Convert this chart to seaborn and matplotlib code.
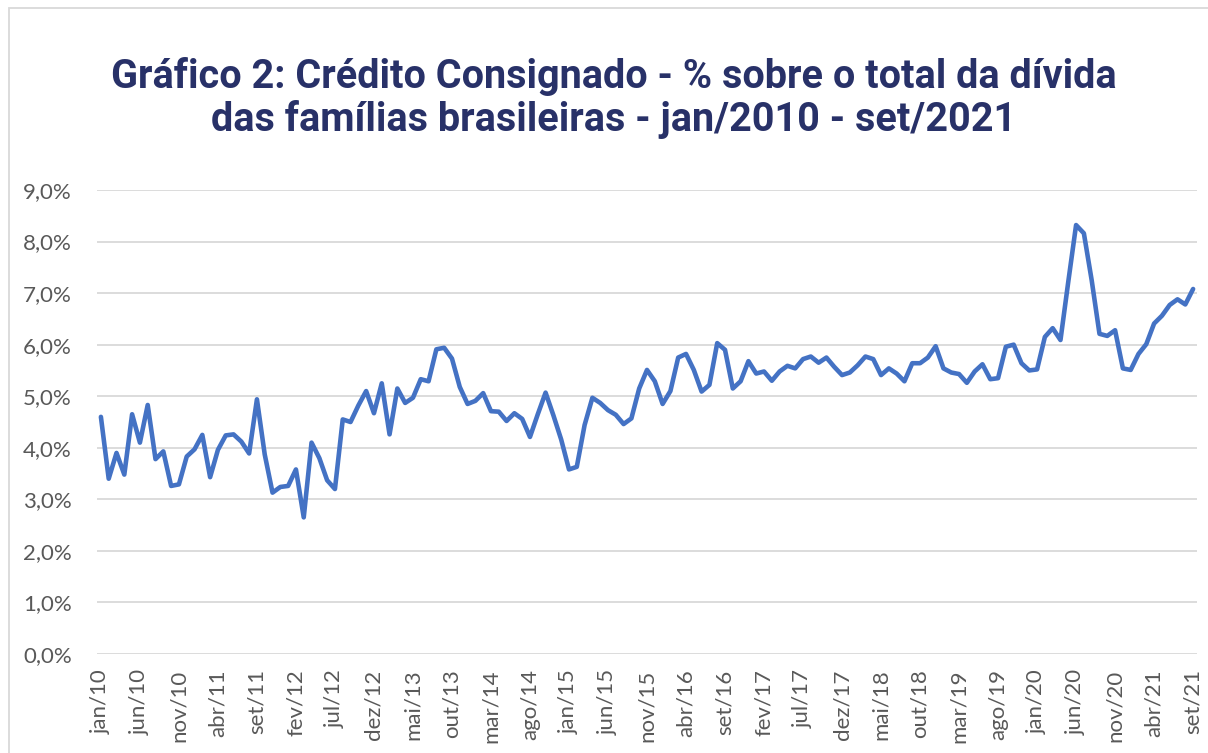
import numpy as np
import pandas as pd
import matplotlib
matplotlib.use("Agg")
import matplotlib.pyplot as plt
import seaborn as sns
from matplotlib.patches import Rectangle
from matplotlib.ticker import FuncFormatter

# share of payroll-deducted credit in total household debt (%), jan/2010 .. set/2021
valores = [
    4.60, 3.40, 3.90, 3.48, 4.65, 4.10, 4.83, 3.78, 3.93, 3.26, 3.29, 3.83,  # 2010
    3.97, 4.25, 3.43, 3.96, 4.24, 4.26, 4.12, 3.89, 4.94, 3.87, 3.13, 3.24,  # 2011
    3.26, 3.58, 2.65, 4.10, 3.80, 3.37, 3.20, 4.55, 4.50, 4.82, 5.10, 4.67,  # 2012
    5.25, 4.26, 5.15, 4.87, 4.97, 5.33, 5.29, 5.91, 5.94, 5.73, 5.18, 4.85,  # 2013
    4.91, 5.06, 4.71, 4.70, 4.52, 4.67, 4.56, 4.21, 4.65, 5.07, 4.63, 4.16,  # 2014
    3.58, 3.63, 4.44, 4.97, 4.87, 4.73, 4.64, 4.46, 4.57, 5.15, 5.51, 5.29,  # 2015
    4.85, 5.10, 5.75, 5.82, 5.51, 5.09, 5.22, 6.03, 5.90, 5.15, 5.29, 5.68,  # 2016
    5.44, 5.48, 5.30, 5.48, 5.59, 5.54, 5.72, 5.77, 5.65, 5.75, 5.57, 5.41,  # 2017
    5.46, 5.60, 5.77, 5.72, 5.41, 5.54, 5.44, 5.29, 5.64, 5.64, 5.75, 5.97,  # 2018
    5.54, 5.46, 5.43, 5.26, 5.48, 5.62, 5.33, 5.35, 5.96, 6.00, 5.64, 5.50,  # 2019
    5.52, 6.15, 6.32, 6.09, 7.22, 8.32, 8.16, 7.25, 6.21, 6.17, 6.28, 5.54,  # 2020
    5.51, 5.82, 6.01, 6.41, 6.56, 6.77, 6.88, 6.78, 7.08,                    # 2021
]
meses = ["jan", "fev", "mar", "abr", "mai", "jun", "jul", "ago", "set", "out", "nov", "dez"]
rotulos = [f"{meses[i % 12]}/{10 + i // 12}" for i in range(len(valores))]
titulo = "Gráfico 2: Crédito Consignado - % sobre o total da dívida\ndas famílias brasileiras - jan/2010 - set/2021"

df = pd.DataFrame({"pos": np.arange(len(valores)), "valor": valores, "mes": rotulos})

sns.set_style("white")
plt.rcParams["font.family"] = ["Lato", "DejaVu Sans"]

fig = plt.figure(figsize=(12.08, 7.53), dpi=100)
ax = fig.add_axes([97 / 1208, 1 - 654 / 753, 1100 / 1208, 464 / 753])

sns.lineplot(data=df, x="pos", y="valor", ax=ax, color="#4472C4", linewidth=3.3)

ax.set_xlim(-0.5, len(valores) - 0.5)
ax.set_ylim(0, 9)
ax.set_yticks(np.arange(0, 10, 1))
ax.yaxis.set_major_formatter(FuncFormatter(lambda v, _: f"{v:.1f}%".replace(".", ",")))
ax.set_xticks(df["pos"][::5])
ax.set_xticklabels(df["mes"][::5], rotation=90)
ax.tick_params(axis="both", length=0, labelsize=16, labelcolor="#595959")
ax.tick_params(axis="y", pad=18)
ax.tick_params(axis="x", pad=11)
ax.grid(axis="y", color="#D9D9D9", linewidth=1.3)
ax.set_axisbelow(True)
for s in ax.spines.values():
    s.set_visible(False)
ax.set_xlabel("")
ax.set_ylabel("")

fig.text(0.508, 1 - 98 / 753, titulo, ha="center", va="center", fontsize=28.5,
         fontweight="bold", color="#283168", family="Roboto", linespacing=1.15)

fig.patches.append(Rectangle((9 / 1208, -0.1), 1.2, 1 - 8 / 753 + 0.1, transform=fig.transFigure,
                             fill=False, edgecolor="#D9D9D9", linewidth=1.3))

fig.savefig("out.png", dpi=100)
